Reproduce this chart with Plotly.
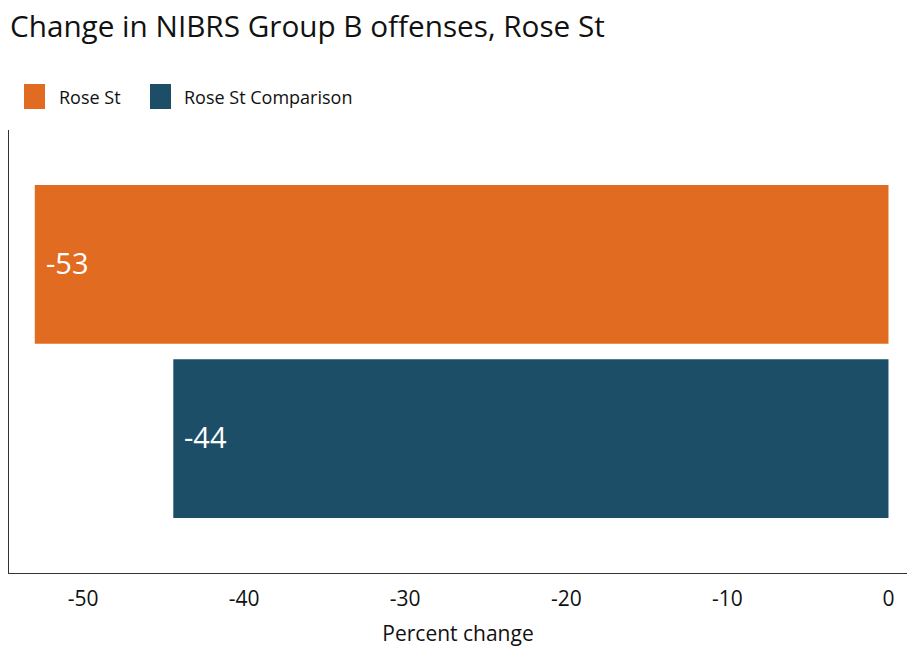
import plotly.graph_objects as go

# Percent change in NIBRS Group B offenses
series = ["Rose St", "Rose St Comparison"]
values = [-53.0, -44.4]
colors = ["#E16C21", "#1C4F67"]
tick_vals = [-50, -40, -30, -20, -10, 0]
tick_text = ["-50", "-40", "-30", "-20", "-10", "0"]

FONT = "Open Sans, Noto Sans, sans-serif"

fig = go.Figure()
for name, val, col in zip(series, values, colors):
    fig.add_trace(go.Bar(
        x=[val], y=[name], orientation="h", name=name,
        marker=dict(color=col, line=dict(width=0)),
        width=0.91, showlegend=False, hoverinfo="skip",
    ))
    # value label inside the bar, near its left end
    fig.add_annotation(
        x=val, y=name, xref="x", yref="y",
        text=f"{val:.0f}", showarrow=False,
        xanchor="left", yanchor="middle", xshift=9, yshift=2,
        font=dict(family=FONT, size=29, color="white"),
    )

# legend drawn as swatches plus labels
legend_x = [24, 150]
label_x = [57, 182]
for name, col, sx, lx in zip(series, colors, legend_x, label_x):
    fig.add_shape(
        type="rect", xref="paper", yref="paper",
        x0=(sx - 9) / 898, x1=(sx + 21 - 9) / 898,
        y0=1 + (130 - 109) / 443, y1=1 + (130 - 84) / 443,
        fillcolor=col, line=dict(width=0),
    )
    fig.add_annotation(
        x=(lx - 9) / 898, y=1 + (130 - 97) / 443, xref="paper", yref="paper",
        text=name, showarrow=False, xanchor="left", yanchor="middle",
        font=dict(family=FONT, size=18, color="#111111"),
    )

fig.update_layout(
    width=907, height=647,
    margin=dict(l=9, r=0, t=130, b=74, pad=0),
    paper_bgcolor="white", plot_bgcolor="white",
    barmode="overlay",
    title=dict(
        text="Change in NIBRS Group B offenses, Rose St",
        xref="container", yref="container", x=10 / 907, xanchor="left",
        y=1 - 27 / 647, yanchor="middle",
        font=dict(family=FONT, size=29.7, color="#111111"),
    ),
    xaxis=dict(
        range=[-54.6, 1.15], tickmode="array", tickvals=tick_vals, ticktext=tick_text,
        showgrid=False, zeroline=False, showline=True, linecolor="#333333", linewidth=1,
        ticks="", tickfont=dict(family=FONT, size=21, color="#111111"),
        ticklabelstandoff=7,
        title=dict(text="Percent change", standoff=17,
                   font=dict(family=FONT, size=21, color="#111111")),
    ),
    yaxis=dict(
        range=[1.77, -0.77], showticklabels=False, showgrid=False, zeroline=False,
        showline=True, linecolor="#333333", linewidth=1, ticks="",
    ),
)

fig.write_html("out.html")
